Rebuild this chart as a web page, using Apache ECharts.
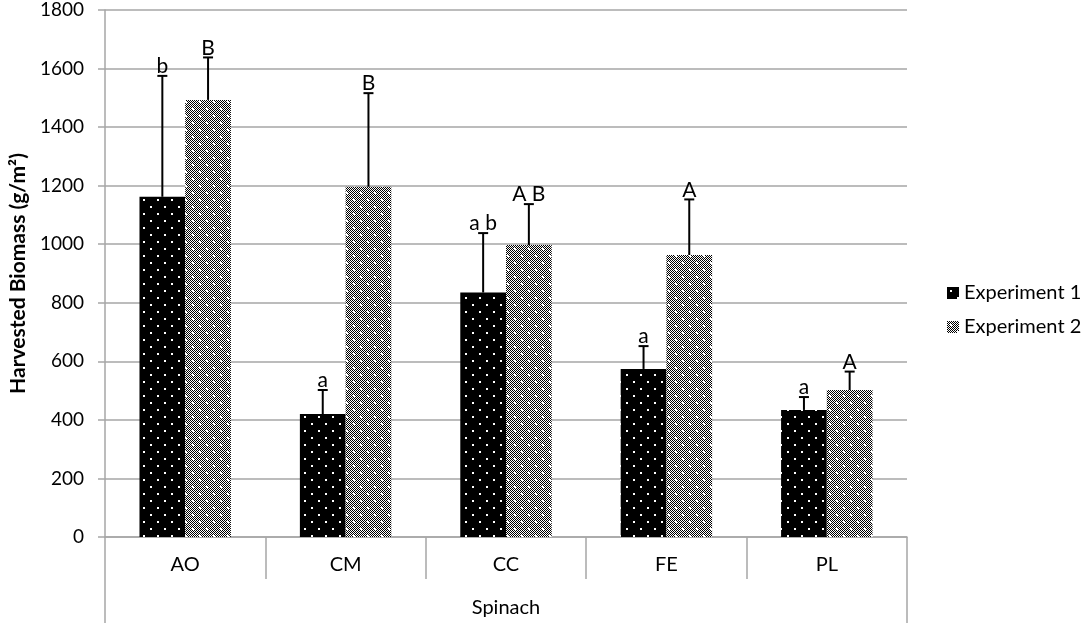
<!DOCTYPE html>
<html>
<head>
<meta charset="utf-8">
<script src="https://cdn.jsdelivr.net/npm/echarts@6/dist/echarts.min.js"></script>
<style>
    html, body { margin: 0; padding: 0; background: #fff; }
    #chart { width: 1084px; height: 626px; }
</style>
</head>
<body>
<div id="chart"></div>
<script>
// treatments (Spinach)
var categories = ['AO', 'CM', 'CC', 'FE', 'PL'];
var yTicks = { min: 0, max: 1800, interval: 200 };

// Experiment 1
var exp1Mean = [1162, 420, 835, 574, 434];
var exp1Upper = [1575, 502, 1038, 652, 478];
var exp1Letters = ['b', 'a', 'a b', 'a', 'a'];

// Experiment 2
var exp2Mean = [1493, 1196, 997, 963, 502];
var exp2Upper = [1638, 1516, 1137, 1153, 565];
var exp2Letters = ['B', 'B', 'A B', 'A', 'A'];

var FONT = 'Lato, "Liberation Sans", sans-serif';
var GRID_GRAY = '#a6a6a6';
var CAT_GAP = 0.43;

// excel-like fill patterns
function makeTile(checker) {
    var c = document.createElement('canvas');
    c.width = 14;
    c.height = 14;
    var ctx = c.getContext('2d');
    if (checker) {
        ctx.fillStyle = '#fff';
        ctx.fillRect(0, 0, 14, 14);
        ctx.fillStyle = '#000';
        for (var y = 0; y < 14; y++) {
            for (var x = 0; x < 14; x++) {
                if ((x + y) % 2 === 0) ctx.fillRect(x, y, 1, 1);
            }
        }
    } else {
        ctx.fillStyle = '#000';
        ctx.fillRect(0, 0, 14, 14);
    }
    ctx.fillStyle = '#fff';
    ctx.fillRect(3, 3, 2, 2);
    ctx.fillRect(10, 10, 2, 2);
    return c;
}

var pat1 = { image: makeTile(false), repeat: 'repeat' };
var pat2 = { image: makeTile(true), repeat: 'repeat' };

function rows(mean, upper, letters) {
    var out = [];
    for (var i = 0; i < mean.length; i++) {
        out.push([i, mean[i], upper[i], letters[i]]);
    }
    return out;
}

// error bar (plus only) + letter on top
function errRenderer(side, letters) {
    return function (params, api) {
        var ci = api.value(0);
        var base = api.coord([ci, api.value(1)]);
        var top = api.coord([ci, api.value(2)]);
        var band = api.size([1, 0])[0];
        var barW = band * (1 - CAT_GAP) / 2;
        var x = base[0] + side * barW / 2;
        return {
            type: 'group',
            children: [
                { type: 'line', shape: { x1: x, y1: base[1], x2: x, y2: top[1] },
                  style: { stroke: '#000', lineWidth: 2 } },
                { type: 'line', shape: { x1: x - 5, y1: top[1], x2: x + 5, y2: top[1] },
                  style: { stroke: '#000', lineWidth: 2 } },
                { type: 'text', style: { text: letters[params.dataIndex], x: x, y: top[1] + 1,
                  align: 'center', verticalAlign: 'bottom',
                  fontSize: 21, fontFamily: FONT, fill: '#000' } }
            ]
        };
    };
}

var myChart = echarts.init(document.getElementById('chart'));

var option = {
    animation: false,
    backgroundColor: '#fff',
    textStyle: { fontFamily: FONT },
    grid: { left: 98, right: 177, top: 10, bottom: 89, containLabel: false },
    legend: {
        data: ['Experiment 1', 'Experiment 2'],
        orient: 'vertical',
        left: 942,
        top: 278,
        itemWidth: 12,
        itemHeight: 12,
        itemGap: 14,
        icon: 'rect',
        textStyle: { fontSize: 20, color: '#000', fontFamily: FONT }
    },
    xAxis: [
        {
            type: 'category',
            data: categories,
            position: 'bottom',
            axisLine: { lineStyle: { color: GRID_GRAY, width: 1.5 } },
            axisTick: { show: true, length: 42, alignWithLabel: false,
                        lineStyle: { color: GRID_GRAY, width: 1.5 } },
            axisLabel: { margin: 18, fontSize: 20, color: '#000', fontFamily: FONT },
            splitLine: { show: false }
        },
        {
            type: 'category',
            data: ['Spinach'],
            position: 'bottom',
            axisLine: { show: false },
            axisTick: { show: true, length: 86, alignWithLabel: false,
                        lineStyle: { color: GRID_GRAY, width: 1.5 } },
            axisLabel: { margin: 61, fontSize: 20, color: '#000', fontFamily: FONT },
            splitLine: { show: false }
        }
    ],
    yAxis: {
        type: 'value',
        min: yTicks.min,
        max: yTicks.max,
        interval: yTicks.interval,
        name: 'Harvested Biomass (g/m\u00b2)',
        nameLocation: 'middle',
        nameGap: 76,
        nameTextStyle: { fontSize: 21, fontWeight: 'bold', color: '#000', fontFamily: FONT },
        axisLine: { show: true, lineStyle: { color: GRID_GRAY, width: 1.5 } },
        axisTick: { show: true, length: 7, lineStyle: { color: GRID_GRAY, width: 1.5 } },
        axisLabel: { margin: 21, fontSize: 19, color: '#000', fontFamily: FONT,
                     formatter: function (v) { return String(v); } },
        splitLine: { show: true, lineStyle: { color: GRID_GRAY, width: 1.5 } }
    },
    series: [
        {
            name: 'Experiment 1',
            type: 'bar',
            data: exp1Mean,
            barGap: '0%',
            barCategoryGap: (CAT_GAP * 100) + '%',
            itemStyle: { color: pat1 }
        },
        {
            name: 'Experiment 2',
            type: 'bar',
            data: exp2Mean,
            barGap: '0%',
            barCategoryGap: (CAT_GAP * 100) + '%',
            itemStyle: { color: pat2 }
        },
        {
            name: 'err1',
            type: 'custom',
            data: rows(exp1Mean, exp1Upper, exp1Letters),
            encode: { x: 0, y: 2 },
            renderItem: errRenderer(-1, exp1Letters),
            z: 5
        },
        {
            name: 'err2',
            type: 'custom',
            data: rows(exp2Mean, exp2Upper, exp2Letters),
            encode: { x: 0, y: 2 },
            renderItem: errRenderer(1, exp2Letters),
            z: 5
        }
    ]
};

myChart.setOption(option);
</script>
</body>
</html>
